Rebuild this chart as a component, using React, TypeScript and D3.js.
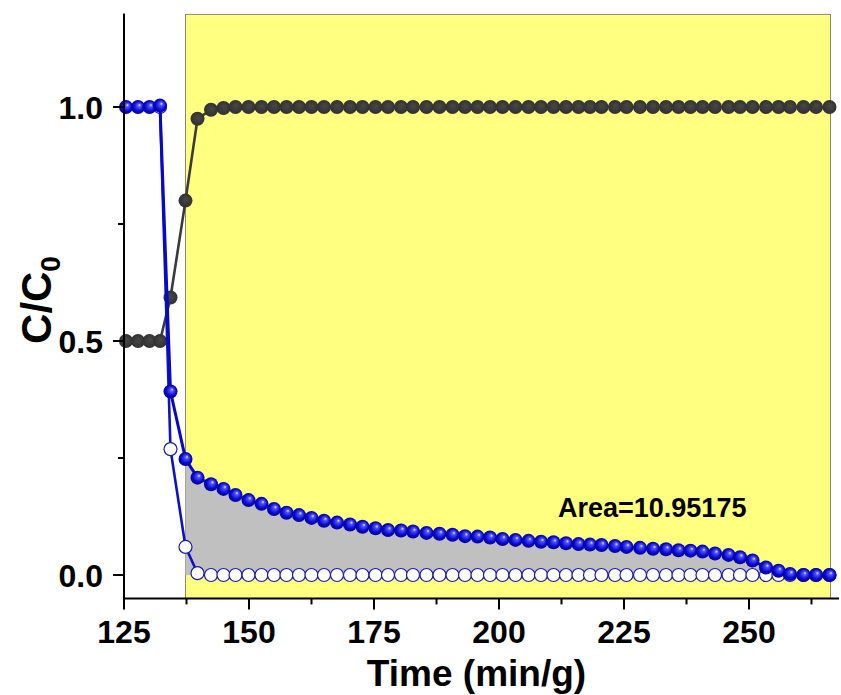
import React from "react";
import * as d3 from "d3";

// Time axis values (min/g)
const time = [
  125.4, 127.8, 130.1, 132.2, 134.3, 137.3, 139.7, 142.4, 144.9, 147.3,
  149.9, 152.5, 155.0, 157.5, 160.0, 162.5, 165.0, 167.6, 170.2, 172.7,
  175.3, 177.8, 180.4, 182.8, 185.5, 188.1, 190.7, 193.2, 195.7, 198.2,
  200.7, 203.3, 205.9, 208.4, 210.9, 213.4, 215.9, 218.2, 220.5, 223.2,
  225.5, 228.2, 230.8, 233.4, 235.9, 238.3, 240.7, 243.2, 245.9, 248.2,
  250.7, 253.4, 255.9, 258.2, 260.9, 263.4, 266.1,
];

// Filled blue spheres
const blueSeries = [
  1.0, 1.0, 1.0, 1.003, 0.392, 0.248, 0.208, 0.194, 0.184, 0.171,
  0.16, 0.152, 0.141, 0.133, 0.128, 0.122, 0.116, 0.112, 0.108, 0.103,
  0.1, 0.096, 0.095, 0.093, 0.09, 0.088, 0.086, 0.083, 0.082, 0.08,
  0.077, 0.075, 0.073, 0.071, 0.07, 0.068, 0.066, 0.065, 0.064, 0.062,
  0.06, 0.058, 0.056, 0.055, 0.053, 0.052, 0.05, 0.046, 0.043, 0.038,
  0.031, 0.016, 0.009, 0.002, 0.0, 0.0, 0.0,
];

// Open circles
const openSeries: (number | null)[] = [
  null, null, null, 1.0, 0.269, 0.06, 0.004, 0.0, 0.0, 0.0,
  0.0, 0.0, 0.0, 0.0, 0.0, 0.0, 0.0, 0.0, 0.0, 0.0,
  0.0, 0.0, 0.0, 0.0, 0.0, 0.0, 0.0, 0.0, 0.0, 0.0,
  0.0, 0.0, 0.0, 0.0, 0.0, 0.0, 0.0, 0.0, 0.0, 0.0,
  0.0, 0.0, 0.0, 0.0, 0.0, 0.0, 0.0, 0.0, 0.0, 0.0,
  0.0, 0.0, 0.0, 0.0, 0.0, 0.0, 0.0,
];

// Dark gray series
const graySeries = [
  0.5, 0.5, 0.5, 0.5, 0.593, 0.8, 0.975, 0.994, 0.998, 1.0,
  1.0, 1.0, 1.0, 1.0, 1.0, 1.0, 1.0, 1.0, 1.0, 1.0,
  1.0, 1.0, 1.0, 1.0, 1.0, 1.0, 1.0, 1.0, 1.0, 1.0,
  1.0, 1.0, 1.0, 1.0, 1.0, 1.0, 1.0, 1.0, 1.0, 1.0,
  1.0, 1.0, 1.0, 1.0, 1.0, 1.0, 1.0, 1.0, 1.0, 1.0,
  1.0, 1.0, 1.0, 1.0, 1.0, 1.0, 1.0,
];

const xMajorTicks = [125, 150, 175, 200, 225, 250];
const xMinorTicks = [137.5, 162.5, 187.5, 212.5, 237.5, 262.5];
const yMajorTicks = [0, 0.5, 1.0];
const yMinorTicks = [0.25, 0.75];
const yTickLabels = ["0.0", "0.5", "1.0"];

const areaStartIndex = 5;
const areaLabel = "Area=10.95175";
const xTitle = "Time (min/g)";

const FONT = "'Liberation Sans', Arial, sans-serif";

export default function App() {
  const W = 841;
  const H = 695;
  const x = d3.scaleLinear().domain([125, 268]).range([124, 839]);
  const y = d3.scaleLinear().domain([-0.05, 1.2]).range([598.4, 13.4]);

  const idx = time.map((_, i) => i);
  const areaIdx = idx.slice(areaStartIndex);

  const areaGen = d3
    .area<number>()
    .x((i) => x(time[i]))
    .y0(() => y(0))
    .y1((i) => y(blueSeries[i]));

  const lineOf = (vals: (number | null)[]) =>
    d3
      .line<number>()
      .defined((i) => vals[i] !== null)
      .x((i) => x(time[i]))
      .y((i) => y(vals[i] as number))(idx) || "";

  const hlX0 = x(time[areaStartIndex]);
  const hlX1 = x(time[time.length - 1]);
  const yTop = y(1.2);
  const yBot = y(-0.05);
  const xLeft = x(125);
  const xRight = x(268);

  const r = 7;

  return (
    <svg
      width={W}
      height={H}
      style={{ position: "absolute", left: 0, top: 0, background: "#fff" }}
    >
      <defs>
        <radialGradient id="sphere" cx="0.5" cy="0.5" r="0.55" fx="0.62" fy="0.35">
          <stop offset="0%" stopColor="#e8e8ff" />
          <stop offset="22%" stopColor="#5050ff" />
          <stop offset="65%" stopColor="#0808cc" />
          <stop offset="100%" stopColor="#000090" />
        </radialGradient>
        <radialGradient id="graySphere" cx="0.5" cy="0.5" r="0.55" fx="0.55" fy="0.4">
          <stop offset="0%" stopColor="#484848" />
          <stop offset="100%" stopColor="#2e2e2e" />
        </radialGradient>
      </defs>

      {/* highlight region */}
      <rect
        x={hlX0}
        y={yTop + 1}
        width={hlX1 - hlX0 + 1}
        height={yBot - yTop - 1}
        fill="#ffff80"
        stroke="#8a8a6a"
        strokeWidth={1}
      />

      {/* integrated area */}
      <path d={areaGen(areaIdx) || ""} fill="#c0c0c0" stroke="none" />

      {/* gray series */}
      <path d={lineOf(graySeries)} fill="none" stroke="#3a3a3a" strokeWidth={2.6} />
      {idx.map((i) => (
        <circle
          key={"g" + i}
          cx={x(time[i])}
          cy={y(graySeries[i])}
          r={r}
          fill="url(#graySphere)"
        />
      ))}

      {/* open series */}
      <path d={lineOf(openSeries)} fill="none" stroke="#1010c8" strokeWidth={2.6} />
      {idx
        .filter((i) => openSeries[i] !== null)
        .map((i) => (
          <circle
            key={"o" + i}
            cx={x(time[i])}
            cy={y(openSeries[i] as number)}
            r={6.5}
            fill="#ffffff"
            stroke="#1a1ab8"
            strokeWidth={1.2}
          />
        ))}

      {/* blue series */}
      <path d={lineOf(blueSeries)} fill="none" stroke="#0808c8" strokeWidth={3} />
      {idx.map((i) => (
        <circle
          key={"b" + i}
          cx={x(time[i])}
          cy={y(blueSeries[i])}
          r={r}
          fill="url(#sphere)"
        />
      ))}

      {/* axes */}
      <line x1={xLeft} x2={xLeft} y1={yTop} y2={yBot + 1} stroke="#000" strokeWidth={2} />
      <line x1={xLeft - 1} x2={xRight} y1={yBot} y2={yBot} stroke="#000" strokeWidth={2} />

      {yMajorTicks.map((t, k) => (
        <g key={"ym" + t}>
          <line x1={xLeft - 11} x2={xLeft} y1={y(t)} y2={y(t)} stroke="#000" strokeWidth={2} />
          <text
            x={xLeft - 21}
            y={y(t) + 11.5}
            textAnchor="end"
            fontFamily={FONT}
            fontWeight="bold"
            fontSize={32}
            fill="#000"
          >
            {yTickLabels[k]}
          </text>
        </g>
      ))}
      {yMinorTicks.map((t) => (
        <line key={"yn" + t} x1={xLeft - 6} x2={xLeft} y1={y(t)} y2={y(t)} stroke="#000" strokeWidth={2} />
      ))}

      {xMajorTicks.map((t) => (
        <g key={"xm" + t}>
          <line x1={x(t)} x2={x(t)} y1={yBot} y2={yBot + 11} stroke="#000" strokeWidth={2} />
          <text
            x={x(t)}
            y={643}
            textAnchor="middle"
            fontFamily={FONT}
            fontWeight="bold"
            fontSize={32}
            fill="#000"
          >
            {t}
          </text>
        </g>
      ))}
      {xMinorTicks.map((t) => (
        <line key={"xn" + t} x1={x(t)} x2={x(t)} y1={yBot} y2={yBot + 6} stroke="#000" strokeWidth={2} />
      ))}

      {/* axis titles */}
      <text
        x={(xLeft + xRight) / 2 - 5}
        y={686}
        textAnchor="middle"
        fontFamily={FONT}
        fontWeight="bold"
        fontSize={37}
        fill="#000"
      >
        {xTitle}
      </text>
      <text
        transform={`translate(51, 300) rotate(-90)`}
        textAnchor="middle"
        fontFamily={FONT}
        fontWeight="bold"
        fontSize={42}
        fill="#000"
      >
        C/C
        <tspan fontSize={28} dy={9}>
          0
        </tspan>
      </text>

      {/* area annotation */}
      <text
        x={558}
        y={517}
        fontFamily={FONT}
        fontWeight="bold"
        fontSize={27}
        fill="#000"
      >
        {areaLabel}
      </text>
    </svg>
  );
}
